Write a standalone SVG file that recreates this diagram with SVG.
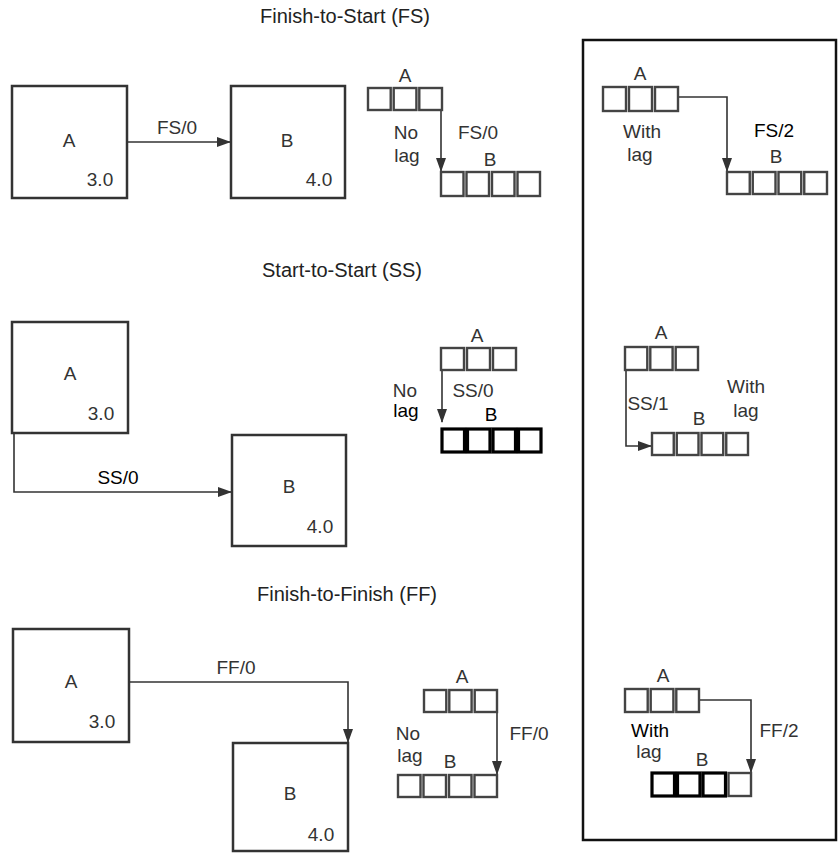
<svg xmlns="http://www.w3.org/2000/svg" width="838" height="854" viewBox="0 0 838 854">
<defs>
<marker id="ah" markerUnits="userSpaceOnUse" markerWidth="14" markerHeight="10" refX="13" refY="5" orient="auto">
<path d="M0,0 L14,5 L0,10 Z" fill="#333"/>
</marker>
<style>
text{font-family:"Liberation Sans",Arial,Helvetica,sans-serif;font-size:19px;fill:#333;text-anchor:middle}
.title{font-size:20px;fill:#222;text-anchor:start}
.dk{fill:#000}
.box{fill:none;stroke:#333;stroke-width:2.5}
.sq{fill:none;stroke:#444;stroke-width:2.4}
.sqb{fill:none;stroke:#000;stroke-width:3.2}
.con{fill:none;stroke:#333;stroke-width:1.6}
.panel{fill:none;stroke:#111;stroke-width:2.5}
</style>
</defs>
<rect width="838" height="854" fill="#fff"/>

<g id="titles">
<text class="title" x="260" y="23">Finish-to-Start (FS)</text>
<text class="title" x="262" y="277">Start-to-Start (SS)</text>
<text class="title" x="257" y="601">Finish-to-Finish (FF)</text>
</g>

<rect id="panel" class="panel" x="583" y="40" width="253" height="800"/>

<g id="connectors">
<path class="con" d="M128,142 H230" marker-end="url(#ah)"/>
<path class="con" d="M441,110 V171" marker-end="url(#ah)"/>
<path class="con" d="M678,97 H727 V171" marker-end="url(#ah)"/>
<path class="con" d="M14,434 V492 H231" marker-end="url(#ah)"/>
<path class="con" d="M442,370 V422" marker-end="url(#ah)"/>
<path class="con" d="M626,370 V446 H651" marker-end="url(#ah)"/>
<path class="con" d="M129,682 H348 V742" marker-end="url(#ah)"/>
<path class="con" d="M497,712 V774" marker-end="url(#ah)"/>
<path class="con" d="M699,700 H751 V772" marker-end="url(#ah)"/>
</g>

<g id="fs-labels">
<text x="177" y="134">FS/0</text>
</g>

<g id="fs-A">
<rect class="box" x="12" y="86" width="115" height="112"/>
<text x="69" y="147">A</text>
<text x="100" y="186">3.0</text>
</g>
<g id="fs-B">
<rect class="box" x="231" y="86" width="114" height="112"/>
<text x="287" y="147">B</text>
<text x="319" y="186">4.0</text>
</g>

<g id="fs-nolag">
<text x="405" y="82">A</text>
<rect class="sq" x="368" y="88" width="22.7" height="22"/>
<rect class="sq" x="393.7" y="88" width="22.7" height="22"/>
<rect class="sq" x="419.3" y="88" width="22.7" height="22"/>
<text x="406" y="139">No</text>
<text x="407" y="162">lag</text>
<text x="478" y="139">FS/0</text>
<text x="490" y="166">B</text>
<rect class="sq" x="441" y="172" width="22.5" height="24"/>
<rect class="sq" x="466.5" y="172" width="22.5" height="24"/>
<rect class="sq" x="492" y="172" width="22.5" height="24"/>
<rect class="sq" x="517.5" y="172" width="22.5" height="24"/>
</g>

<g id="fs-lag">
<text x="640" y="80">A</text>
<rect class="sq" x="603" y="87" width="23" height="24"/>
<rect class="sq" x="629" y="87" width="23" height="24"/>
<rect class="sq" x="655" y="87" width="23" height="24"/>
<text x="642" y="138">With</text>
<text x="640" y="161">lag</text>
<text class="dk" x="774" y="137">FS/2</text>
<text x="776" y="163">B</text>
<rect class="sq" x="727" y="172" width="22.75" height="22"/>
<rect class="sq" x="752.75" y="172" width="22.75" height="22"/>
<rect class="sq" x="778.5" y="172" width="22.75" height="22"/>
<rect class="sq" x="804.25" y="172" width="22.75" height="22"/>
</g>

<g id="ss-A">
<rect class="box" x="12" y="322" width="116" height="111"/>
<text x="70" y="380">A</text>
<text x="101" y="420">3.0</text>
</g>
<g id="ss-B">
<rect class="box" x="232" y="435" width="114" height="111"/>
<text x="289" y="493">B</text>
<text x="320" y="533">4.0</text>
</g>
<g id="ss-labels">
<text class="dk" x="118" y="484">SS/0</text>
</g>

<g id="ss-nolag">
<text x="477" y="342">A</text>
<rect class="sq" x="441" y="348" width="23" height="22"/>
<rect class="sq" x="467" y="348" width="23" height="22"/>
<rect class="sq" x="493" y="348" width="23" height="22"/>
<text x="405" y="397">No</text>
<text class="dk" x="406" y="417">lag</text>
<text x="473" y="397">SS/0</text>
<text class="dk" x="491" y="421">B</text>
<rect class="sqb" x="442" y="429" width="22.5" height="23"/>
<rect class="sqb" x="467.5" y="429" width="22.5" height="23"/>
<rect class="sqb" x="493" y="429" width="22.5" height="23"/>
<rect class="sqb" x="518.5" y="429" width="22.5" height="23"/>
</g>

<g id="ss-lag">
<text x="661" y="339">A</text>
<rect class="sq" x="625" y="347" width="22.3" height="23"/>
<rect class="sq" x="650.3" y="347" width="22.3" height="23"/>
<rect class="sq" x="675.7" y="347" width="22.3" height="23"/>
<text x="648" y="410">SS/1</text>
<text x="699" y="425">B</text>
<text x="746" y="393">With</text>
<text x="746" y="417">lag</text>
<rect class="sq" x="652" y="433" width="21.75" height="22"/>
<rect class="sq" x="676.75" y="433" width="21.75" height="22"/>
<rect class="sq" x="701.5" y="433" width="21.75" height="22"/>
<rect class="sq" x="726.25" y="433" width="21.75" height="22"/>
</g>

<g id="ff-A">
<rect class="box" x="13" y="629" width="116" height="113"/>
<text x="71" y="688">A</text>
<text x="102" y="728">3.0</text>
</g>
<g id="ff-B">
<rect class="box" x="233" y="743" width="115" height="108"/>
<text x="290" y="800">B</text>
<text x="321" y="841">4.0</text>
</g>
<g id="ff-labels">
<text x="236" y="674">FF/0</text>
</g>

<g id="ff-nolag">
<text x="462" y="683">A</text>
<rect class="sq" x="424" y="690" width="22.3" height="22"/>
<rect class="sq" x="449.3" y="690" width="22.3" height="22"/>
<rect class="sq" x="474.7" y="690" width="22.3" height="22"/>
<text x="408" y="740">No</text>
<text x="410" y="762">lag</text>
<text x="450" y="768">B</text>
<text x="529" y="740">FF/0</text>
<rect class="sq" x="398" y="775" width="22.5" height="22"/>
<rect class="sq" x="423.5" y="775" width="22.5" height="22"/>
<rect class="sq" x="449" y="775" width="22.5" height="22"/>
<rect class="sq" x="474.5" y="775" width="22.5" height="22"/>
</g>

<g id="ff-lag">
<text x="663" y="682">A</text>
<rect class="sq" x="625" y="689" width="22.7" height="23"/>
<rect class="sq" x="650.7" y="689" width="22.7" height="23"/>
<rect class="sq" x="676.3" y="689" width="22.7" height="23"/>
<text class="dk" x="650" y="737">With</text>
<text x="649" y="758">lag</text>
<text x="702" y="766">B</text>
<text x="779" y="737">FF/2</text>
<rect class="sqb" x="652" y="773" width="22.5" height="23"/>
<rect class="sqb" x="677.5" y="773" width="22.5" height="23"/>
<rect class="sqb" x="703" y="773" width="22.5" height="23"/>
<rect class="sq" x="728.5" y="773" width="22.5" height="23"/>
</g>
</svg>
